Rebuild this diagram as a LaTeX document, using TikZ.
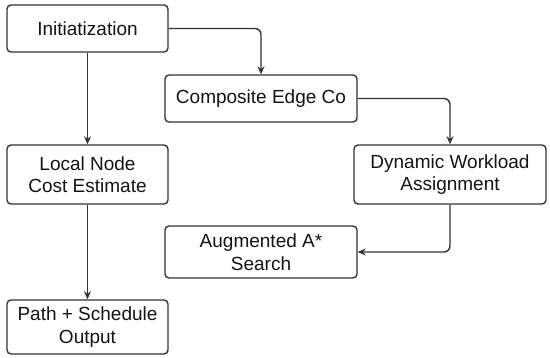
\documentclass[tikz,border=0pt]{standalone}
\usepackage{fontspec}
\setmainfont{Liberation Sans}
\usetikzlibrary{arrows.meta}
\definecolor{linec}{HTML}{333333}
\definecolor{textc}{HTML}{141414}
\begin{document}
\begin{tikzpicture}[x=1pt,y=-1pt,
  box/.style={draw=linec, line width=1.4pt, rounded corners=4pt, fill=white,
    align=center, text=textc, font=\fontsize{19}{22.5}\selectfont, inner sep=0pt},
  conn/.style={draw=linec, line width=1.4pt, rounded corners=6pt,
    -{Stealth[length=8pt,width=7pt]}}]
\useasboundingbox (0,0) rectangle (550,358);
\node[box, minimum width=161pt, minimum height=47pt] (init) at (87.5,28.5) {Initiatization};
\node[box, minimum width=192pt, minimum height=47pt] (comp) at (261,98.5) {Composite Edge Co};
\node[box, minimum width=161pt, minimum height=59pt] (local) at (87.5,174.5) {Local Node\\Cost Estimate};
\node[box, minimum width=192pt, minimum height=59pt] (dyn) at (450,174.5) {Dynamic Workload\\Assignment};
\node[box, minimum width=192pt, minimum height=52pt] (aug) at (261,252) {Augmented A*\\Search};
\node[box, minimum width=161pt, minimum height=54pt] (path) at (87.5,327) {Path + Schedule\\Output};
\draw[conn] (init.east) -| (comp.north);
\draw[conn] (comp.east) -| (dyn.north);
\draw[conn] (dyn.south) |- (aug.east);
\draw[conn] (init.south) -- (local.north);
\draw[conn] (local.south) -- (path.north);
\end{tikzpicture}
\end{document}
